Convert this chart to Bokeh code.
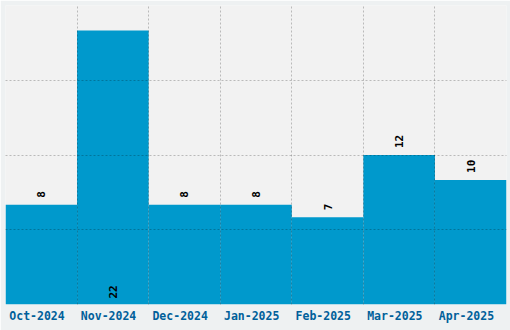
from bokeh.plotting import figure
from bokeh.models import ColumnDataSource, FixedTicker, Range1d
from bokeh.embed import file_html
from bokeh.resources import INLINE
from bokeh.core.properties import value

months = ["Oct-2024", "Nov-2024", "Dec-2024", "Jan-2025", "Feb-2025", "Mar-2025", "Apr-2025"]
counts = [8, 22, 8, 8, 7, 12, 10]
y_max = 24
y_grid = [6, 12, 18, 24]

n = len(months)
xs = [i + 0.5 for i in range(n)]
label_shift = 0.06  # tick labels sit slightly left of bar centres
inside = [c > y_max - 4 for c in counts]
label_y = [0 if ins else c for c, ins in zip(counts, inside)]
label_off = [-6 if ins else -7 for ins in inside]

src = ColumnDataSource(dict(x=xs, top=counts, label=[str(c) for c in counts],
                            ly=label_y, off=label_off))

FONT = "DejaVu Sans Mono"

p = figure(width=510, height=330, output_backend="svg", toolbar_location=None,
           x_range=Range1d(0, n), y_range=Range1d(0, y_max),
           min_border_left=5, min_border_right=4, min_border_top=5, min_border_bottom=26)
p.background_fill_color = "#f2f2f2"
p.border_fill_color = "#eef1f2"
p.outline_line_color = None

p.vbar(x="x", top="top", width=1, bottom=0, source=src, color="#0099cc", line_color=None)

p.text(x="x", y="ly", text="label", source=src, angle=1.5708, y_offset="off",
       text_align="left", text_baseline="middle", text_color="black",
       text_font=value(FONT), text_font_style="bold", text_font_size="11px")

tick_xs = [x - label_shift for x in xs]
p.xaxis.ticker = FixedTicker(ticks=tick_xs)
p.xaxis.major_label_overrides = {x: m for x, m in zip(tick_xs, months)}
p.xaxis.axis_line_color = None
p.xaxis.major_tick_line_color = None
p.xaxis.minor_tick_line_color = None
p.xaxis.major_tick_out = 0
p.xaxis.major_tick_in = 0
p.xaxis.major_label_standoff = 4
p.xaxis.major_label_text_font = FONT
p.xaxis.major_label_text_font_style = "bold"
p.xaxis.major_label_text_font_size = "11.5px"
p.xaxis.major_label_text_color = "#00609a"
p.yaxis.visible = False

p.xgrid.ticker = FixedTicker(ticks=list(range(1, n)))
p.ygrid.ticker = FixedTicker(ticks=y_grid)
for g in (p.xgrid, p.ygrid):
    g.level = "overlay"
    g.grid_line_color = "black"
    g.grid_line_alpha = 0.23
    g.grid_line_dash = "2 2"
    g.grid_line_width = 1

open("out.html", "w").write(file_html(p, INLINE))
